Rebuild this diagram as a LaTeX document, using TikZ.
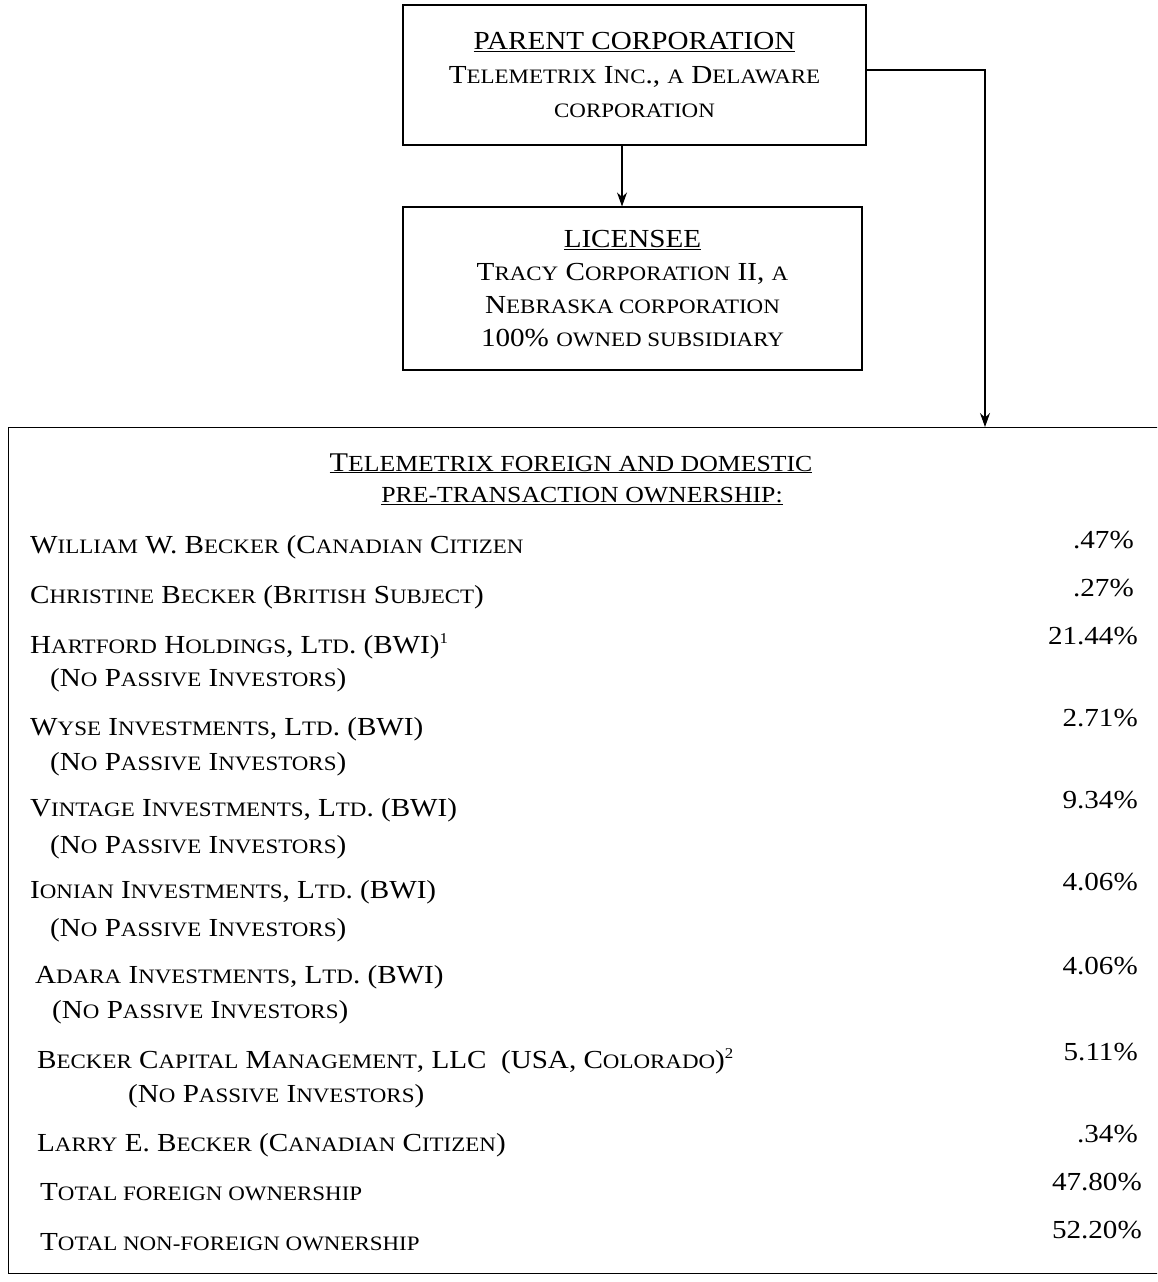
\documentclass[tikz,border=0pt]{standalone}
\usepackage{fontspec}
\setmainfont{Liberation Serif}[FakeStretch=1.12]
\usetikzlibrary{arrows.meta}
\newcommand\sm[1]{{\fontsize{20.5}{24}\selectfont #1}}
\newcommand\hsm[1]{{\fontsize{23}{26}\selectfont #1}}
\begin{document}
\begin{tikzpicture}[x=1pt,y=-1pt,
  box/.style={draw,line width=1.1pt,inner sep=0pt,align=center},
  arr/.style={line width=1.1pt,-{Stealth[length=14pt,width=10pt]}},
  row/.style={anchor=base west,inner sep=0pt,font=\fontsize{26}{30}\selectfont},
  pct/.style={anchor=base east,inner sep=0pt,font=\fontsize{26}{30}\selectfont}]
\useasboundingbox (0,0) rectangle (1157,1282);
\begin{scope}
\clip (0,0) rectangle (1157,1282);
% top boxes
\node[box,minimum width=463pt,minimum height=140pt,font=\fontsize{26}{35}\selectfont] (parent) at (634.5,75)
  {\underline{PARENT CORPORATION}\\[-1pt]
   T\sm{ELEMETRIX} I\sm{NC}., \sm{A} D\sm{ELAWARE}\\[-1pt]
   \sm{CORPORATION}};
\node[box,minimum width=459pt,minimum height=163pt,font=\fontsize{26}{34}\selectfont] (lic) at (632.5,288.5)
  {\underline{LICENSEE}\\[-1pt]
   T\sm{RACY} C\sm{ORPORATION} II, \sm{A}\\[-1pt]
   N\sm{EBRASKA CORPORATION}\\[-1pt]
   100\% \sm{OWNED SUBSIDIARY}};
\node[draw,line width=1.1pt,inner sep=0pt,anchor=north west,minimum width=1170pt,minimum height=846pt] (own) at (8,427) {};
\coordinate (ax) at (622,0);
\coordinate (turn) at (985,70);
\draw[arr] (parent.south -| ax) -- (lic.north -| ax);
\draw[arr] (parent.east |- turn) -| (own.north -| turn);
% header
\node[inner sep=0pt,anchor=base,font=\fontsize{27}{30}\selectfont] (h1) at (571,471) {\underline{T\hsm{ELEMETRIX FOREIGN AND DOMESTIC}}};
\node[inner sep=0pt,anchor=base,font=\fontsize{27}{30}\selectfont] (h2) at (582,502) {\underline{\hsm{PRE-TRANSACTION OWNERSHIP:}}};
% rows
\node[row] (r1) at (30,553) {W\sm{ILLIAM} W. B\sm{ECKER} (C\sm{ANADIAN} C\sm{ITIZEN}};
\node[row] (r2) at (30,603) {C\sm{HRISTINE} B\sm{ECKER} (B\sm{RITISH} S\sm{UBJECT})};
\node[row] (r3) at (30,653) {H\sm{ARTFORD} H\sm{OLDINGS}, L\sm{TD}. (BWI)\textsuperscript{\fontsize{15}{15}\selectfont 1}};
\node[row] (r3b) at (50,686) {(N\sm{O} P\sm{ASSIVE} I\sm{NVESTORS})};
\node[row] (r4) at (30,735) {W\sm{YSE} I\sm{NVESTMENTS}, L\sm{TD}. (BWI)};
\node[row] (r4b) at (50,770) {(N\sm{O} P\sm{ASSIVE} I\sm{NVESTORS})};
\node[row] (r5) at (30,816) {V\sm{INTAGE} I\sm{NVESTMENTS}, L\sm{TD}. (BWI)};
\node[row] (r5b) at (50,853) {(N\sm{O} P\sm{ASSIVE} I\sm{NVESTORS})};
\node[row] (r6) at (30,898) {I\sm{ONIAN} I\sm{NVESTMENTS}, L\sm{TD}. (BWI)};
\node[row] (r6b) at (50,936) {(N\sm{O} P\sm{ASSIVE} I\sm{NVESTORS})};
\node[row] (r7) at (35,983) {A\sm{DARA} I\sm{NVESTMENTS}, L\sm{TD}. (BWI)};
\node[row] (r7b) at (52,1018) {(N\sm{O} P\sm{ASSIVE} I\sm{NVESTORS})};
\node[row] (r8) at (37,1068) {B\sm{ECKER} C\sm{APITAL} M\sm{ANAGEMENT}, LLC\ \ (USA, C\sm{OLORADO})\textsuperscript{\fontsize{15}{15}\selectfont 2}};
\node[row] (r8b) at (128,1102) {(N\sm{O} P\sm{ASSIVE} I\sm{NVESTORS})};
\node[row] (r9) at (37,1151) {L\sm{ARRY} E. B\sm{ECKER} (C\sm{ANADIAN} C\sm{ITIZEN})};
\node[row] (r10) at (40,1200) {T\sm{OTAL FOREIGN OWNERSHIP}};
\node[row] (r11) at (40,1250) {T\sm{OTAL NON-FOREIGN OWNERSHIP}};
% percentages
\node[pct] (p1) at (1134,548) {.47\%};
\node[pct] (p2) at (1134,596) {.27\%};
\node[pct] (p3) at (1138,644) {21.44\%};
\node[pct] (p4) at (1138,726) {2.71\%};
\node[pct] (p5) at (1138,808) {9.34\%};
\node[pct] (p6) at (1138,890) {4.06\%};
\node[pct] (p7) at (1138,974) {4.06\%};
\node[pct] (p8) at (1138,1060) {5.11\%};
\node[pct] (p9) at (1138,1142) {.34\%};
\node[pct] (p10) at (1142,1190) {47.80\%};
\node[pct] (p11) at (1142,1238) {52.20\%};
\end{scope}
\end{tikzpicture}
\end{document}
